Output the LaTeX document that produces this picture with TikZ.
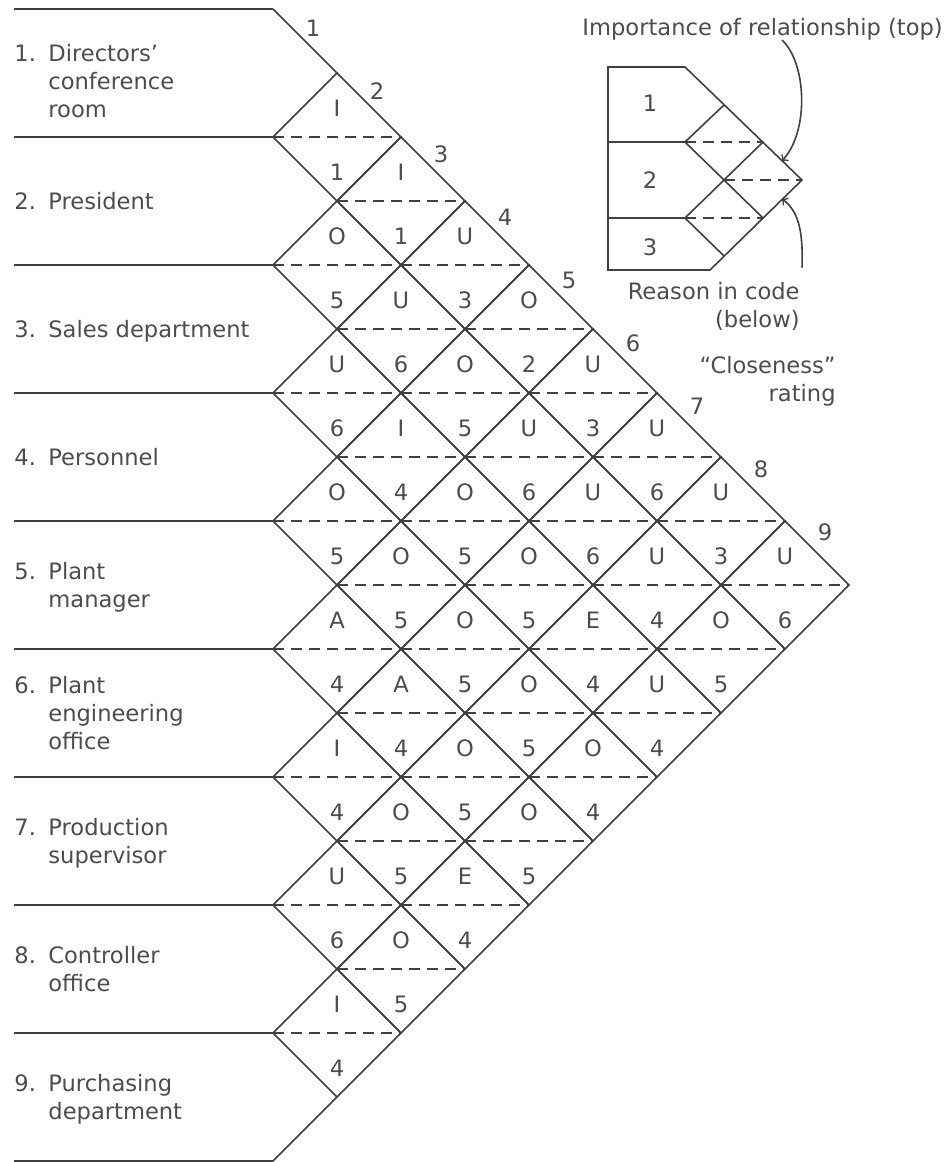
\documentclass[tikz,border=0pt]{standalone}
\usepackage{fontspec}
\setmainfont{DejaVu Sans}
\begin{document}
\begin{tikzpicture}[x=0.5pt, y=-0.5pt,
  every node/.style={inner sep=0pt, text=black!70, font=\fontsize{11.3pt}{14pt}\selectfont},
  edge/.style={draw=black!75, line width=0.8pt},
  split/.style={draw=black!75, line width=0.8pt, dash pattern=on 5.5pt off 3.5pt},
  dept/.style={anchor=west}]
\useasboundingbox (0,0) rectangle (952,1162);

% department rows
\foreach \m in {0,...,9}
  \draw[edge] (14,9+128*\m) -- (273,9+128*\m);
\draw[edge] (273,9) -- (337,73);
\draw[edge] (337,1097) -- (273,1161);

\node[dept] (d1) at (14,84) {\begin{tabular}{@{}l@{}l@{}}\makebox[17pt][l]{1.} & Directors'\\ & conference\\ & room\end{tabular}};
\node[dept] (d2) at (14,204) {\begin{tabular}{@{}l@{}l@{}}\makebox[17pt][l]{2.} & President\end{tabular}};
\node[dept] (d3) at (14,332) {\begin{tabular}{@{}l@{}l@{}}\makebox[17pt][l]{3.} & Sales department\end{tabular}};
\node[dept] (d4) at (14,460) {\begin{tabular}{@{}l@{}l@{}}\makebox[17pt][l]{4.} & Personnel\end{tabular}};
\node[dept] (d5) at (14,588) {\begin{tabular}{@{}l@{}l@{}}\makebox[17pt][l]{5.} & Plant\\ & manager\end{tabular}};
\node[dept] (d6) at (14,716) {\begin{tabular}{@{}l@{}l@{}}\makebox[17pt][l]{6.} & Plant\\ & engineering\\ & office\end{tabular}};
\node[dept] (d7) at (14,844) {\begin{tabular}{@{}l@{}l@{}}\makebox[17pt][l]{7.} & Production\\ & supervisor\end{tabular}};
\node[dept] (d8) at (14,972) {\begin{tabular}{@{}l@{}l@{}}\makebox[17pt][l]{8.} & Controller\\ & office\end{tabular}};
\node[dept] (d9) at (14,1100) {\begin{tabular}{@{}l@{}l@{}}\makebox[17pt][l]{9.} & Purchasing\\ & department\end{tabular}};

% relationship diamonds: i/j/rating/reason
\foreach \i/\j/\rate/\why in {1/2/I/1, 1/3/I/1, 1/4/U/3, 1/5/O/2, 1/6/U/3, 1/7/U/6, 1/8/U/3, 1/9/U/6,
    2/3/O/5, 2/4/U/6, 2/5/O/5, 2/6/U/6, 2/7/U/6, 2/8/U/4, 2/9/O/5,
    3/4/U/6, 3/5/I/4, 3/6/O/5, 3/7/O/5, 3/8/E/4, 3/9/U/4,
    4/5/O/5, 4/6/O/5, 4/7/O/5, 4/8/O/5, 4/9/O/4,
    5/6/A/4, 5/7/A/4, 5/8/O/5, 5/9/O/5,
    6/7/I/4, 6/8/O/5, 6/9/E/4,
    7/8/U/6, 7/9/O/5,
    8/9/I/4} {
  \pgfmathsetmacro{\cx}{273+64*(\j-\i)}
  \pgfmathsetmacro{\cy}{9+64*(\i+\j-1)}
  \draw[edge] (\cx-64,\cy) -- (\cx,\cy-64) -- (\cx+64,\cy) -- (\cx,\cy+64) -- cycle;
  \draw[split] (\cx-64,\cy) -- (\cx+64,\cy);
  \node (r\i\j) at (\cx,\cy-29) {\rate};
  \node (w\i\j) at (\cx,\cy+35) {\why};
}

% column numbers
\foreach \n in {1,...,9}
  \node (k\n) at (313+64*\n-64, 28+63*\n-63) {\n};

% key
\draw[edge] (685,67) -- (608,67) -- (608,270) -- (710,270) -- (802,180) -- cycle;
\draw[edge] (608,142) -- (685,142);
\draw[edge] (608,218) -- (685,218);
\draw[edge] (724,105) -- (685,142) -- (763,218);
\draw[edge] (763,142) -- (685,218) -- (724,256);
\draw[split] (685,142) -- (763,142);
\draw[split] (685,218) -- (763,218);
\draw[split] (724,180) -- (802,180);
\node (key1) at (650,103) {1};
\node (key2) at (650,180) {2};
\node (key3) at (650,247) {3};

\node[anchor=base west] (imp) at (582,35) {Importance of relationship (top)};
\node[anchor=east, align=right] (rsn) at (800,306) {Reason in code\\(below)};
\node[anchor=east, align=right] (cls) at (836,381) {“Closeness”\\rating};
\coordinate (imptip) at (782,161);
\coordinate (rsntip) at (782,199);
\draw[edge, ->] (imp.south -| imptip) .. controls (806,62) and (810,130) .. (imptip);
\draw[edge, ->] ([shift={(2,-14)}]rsn.north east) .. controls (803,235) and (800,212) .. (rsntip);
\end{tikzpicture}
\end{document}
